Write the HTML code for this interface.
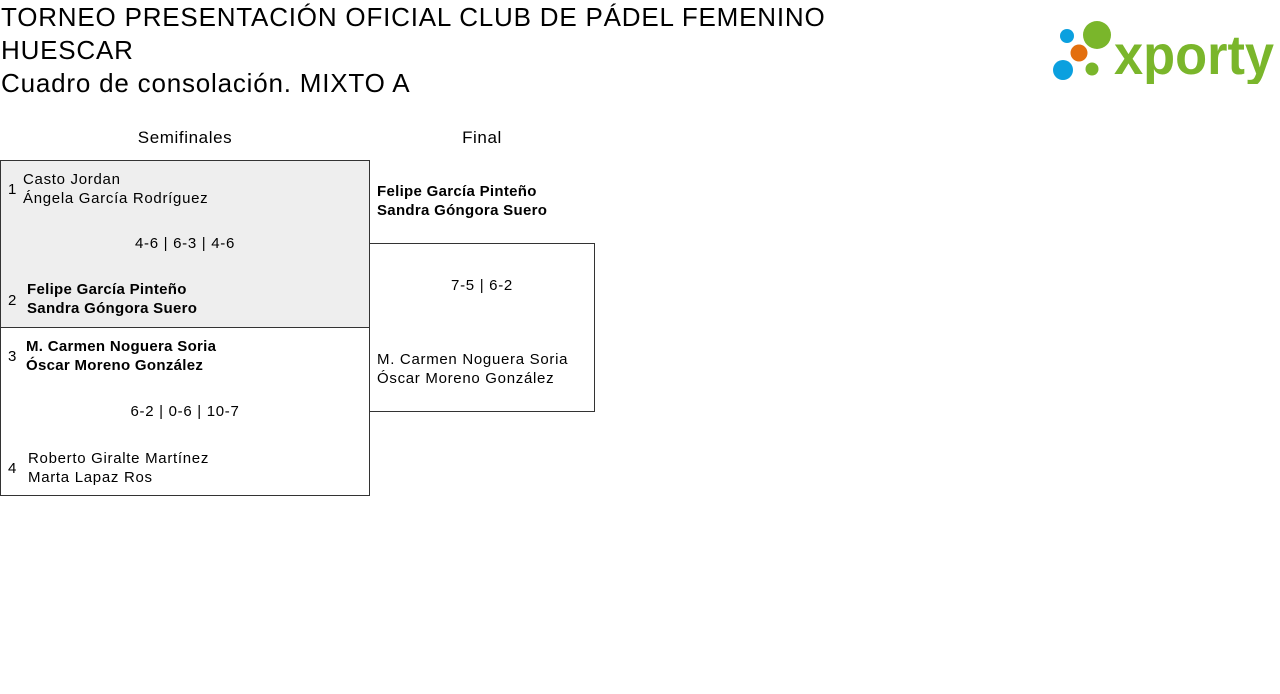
<!DOCTYPE html>
<html><head><meta charset="utf-8"><style>
body{margin:0;width:1280px;height:694px;background:#fff;font-family:"Liberation Sans",sans-serif;color:#000;position:relative;overflow:hidden}
.a{position:absolute;white-space:nowrap}
.t{font-size:26px;line-height:33px;left:1px;letter-spacing:0.8px}
.s{font-size:15px;line-height:19px;letter-spacing:0.7px}
.b{font-weight:bold;letter-spacing:0.3px}
.box{position:absolute;border:1px solid #333;box-sizing:border-box}
</style></head><body>
<div class="a t" style="top:1px">TORNEO PRESENTACIÓN OFICIAL CLUB DE PÁDEL FEMENINO</div>
<div class="a t" style="top:34px">HUESCAR</div>
<div class="a t" style="top:67px">Cuadro de consolación. MIXTO A</div>
<svg class="a" style="left:1050px;top:18px" width="226" height="66">
<circle cx="47" cy="17" r="14" fill="#7ab62b"/>
<circle cx="17" cy="18" r="7" fill="#0ba0df"/>
<circle cx="29" cy="35" r="8.5" fill="#e36f0e"/>
<circle cx="13" cy="52" r="10" fill="#0ba0df"/>
<circle cx="42" cy="51" r="6.5" fill="#7ab62b"/>
<text x="64" y="56" font-family="Liberation Sans" font-weight="bold" font-size="56" fill="#7ab62b" textLength="160" lengthAdjust="spacingAndGlyphs">xporty</text>
</svg>
<div class="a" style="left:0;width:370px;top:128px;text-align:center;font-size:17px;letter-spacing:0.6px">Semifinales</div>
<div class="a" style="left:369px;width:226px;top:128px;text-align:center;font-size:17px;letter-spacing:0.6px">Final</div>
<div class="box" style="left:0;top:160px;width:370px;height:168px;background:#eee"></div>
<div class="box" style="left:0;top:327px;width:370px;height:169px"></div>
<div class="box" style="left:369px;top:243px;width:226px;height:169px"></div>
<div class="a s" style="left:8px;top:180px">1</div>
<div class="a s" style="left:23px;top:170px">Casto Jordan<br>Ángela García Rodríguez</div>
<div class="a s" style="left:0;width:370px;text-align:center;top:234px">4-6 | 6-3 | 4-6</div>
<div class="a s" style="left:8px;top:291px">2</div>
<div class="a s b" style="left:27px;top:280px">Felipe García Pinteño<br>Sandra Góngora Suero</div>
<div class="a s" style="left:8px;top:347px">3</div>
<div class="a s b" style="left:26px;top:337px">M. Carmen Noguera Soria<br>Óscar Moreno González</div>
<div class="a s" style="left:0;width:370px;text-align:center;top:402px">6-2 | 0-6 | 10-7</div>
<div class="a s" style="left:8px;top:459px">4</div>
<div class="a s" style="left:28px;top:449px">Roberto Giralte Martínez<br>Marta Lapaz Ros</div>
<div class="a s b" style="left:377px;top:182px">Felipe García Pinteño<br>Sandra Góngora Suero</div>
<div class="a s" style="left:369px;width:226px;text-align:center;top:276px">7-5 | 6-2</div>
<div class="a s" style="left:377px;top:350px">M. Carmen Noguera Soria<br>Óscar Moreno González</div>
</body></html>
